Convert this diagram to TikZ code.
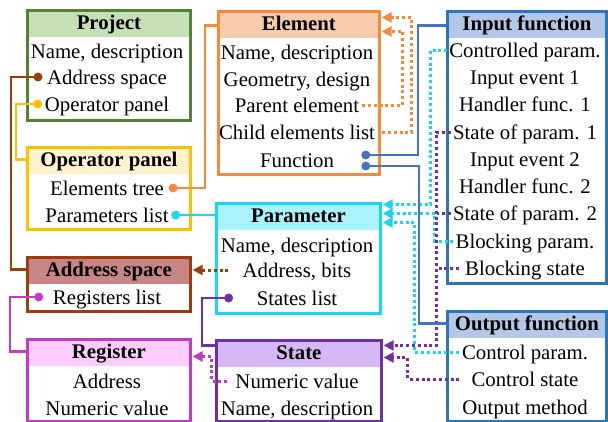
\documentclass[tikz,border=0pt]{standalone}
\usepackage{fontspec}
\setmainfont{Liberation Serif}
\usetikzlibrary{arrows.meta,calc}
\definecolor{gB}{HTML}{548235}\definecolor{gH}{HTML}{C5E0B4}
\definecolor{oB}{HTML}{F58A3C}\definecolor{oH}{HTML}{F8CBAD}
\definecolor{yB}{HTML}{FFC000}\definecolor{yH}{HTML}{FFF2CC}
\definecolor{cB}{HTML}{1AD6F0}\definecolor{cH}{HTML}{ABF3FA}
\definecolor{bB}{HTML}{9C3D10}\definecolor{bH}{HTML}{C88585}
\definecolor{mB}{HTML}{C23BC2}\definecolor{mH}{HTML}{FFCCFF}
\definecolor{pB}{HTML}{7030A0}\definecolor{pH}{HTML}{D5B8F5}
\definecolor{fB}{HTML}{2E75B6}\definecolor{fH}{HTML}{B4C7E7}
\definecolor{lB}{HTML}{4472C4}
\begin{document}
\begin{tikzpicture}[x=1pt,y=-1pt,
  box/.style={draw=#1, line width=2.8pt, inner sep=0pt, anchor=north west},
  hfill/.style={path picture={\fill[#1] (path picture bounding box.north west) rectangle ([yshift=-27pt]path picture bounding box.north east);}},
  txt/.style={inner sep=0pt, text height=14pt, text depth=0pt, font=\fontsize{20.8}{24}\selectfont},
  hdr/.style={txt, font=\fontsize{20.8}{24}\selectfont\bfseries},
  sol/.style={draw=#1, line width=2.6pt},
  dt/.style={draw=#1, line width=3pt, dash pattern=on 3pt off 2.8pt},
  arr/.style={-{Triangle[length=10pt,width=10pt]}, shorten >=-0.5pt},
  dotr/.style={fill=#1}
]
\useasboundingbox (0,0) rectangle (608,421);
% Project
\node[box=gB, hfill=gH, minimum width=163pt, minimum height=110pt] (prj) at (26,9) {};
\node[hdr] (prjh) at ([yshift=-13.5pt]prj.north) {Project};
\node[txt] (prj1) at (107,51) {Name, description};
\node[txt] (prj2) at (107,77) {Address space};
\node[txt] (prj3) at (107,104) {Operator panel};
% Element
\node[box=oB, hfill=oH, minimum width=161pt, minimum height=163pt] (el) at (217,10) {};
\node[hdr] (elh) at ([yshift=-13.5pt]el.north) {Element};
\node[txt] (el1) at (297,52) {Name, description};
\node[txt] (el2) at (297,79) {Geometry, design};
\node[txt] (el3) at (297,105) {Parent element};
\node[txt] (el4) at (297,132) {Child elements list};
\node[txt] (el5) at (297,160) {Function};
% Input function
\node[box=fB, hfill=fH, minimum width=159pt, minimum height=272pt] (if) at (446,10) {};
\node[hdr] (ifh) at ([yshift=-13.5pt]if.north) {Input function};
\node[txt] (if1) at (525,50) {Controlled param.};
\node[txt] (if2) at (525,77) {Input event 1};
\node[txt] (if3) at (525,104) {Handler func. 1};
\node[txt] (if4) at (525,132) {State of param. 1};
\node[txt] (if5) at (525,159) {Input event 2};
\node[txt] (if6) at (525,186) {Handler func. 2};
\node[txt] (if7) at (525,213) {State of param. 2};
\node[txt] (if8) at (525,241) {Blocking param.};
\node[txt] (if9) at (525,268) {Blocking state};
% Operator panel
\node[box=yB, hfill=yH, minimum width=163pt, minimum height=82pt] (op) at (26,146) {};
\node[hdr] (oph) at ([yshift=-13.5pt]op.north) {Operator panel};
\node[txt] (op1) at (107,188) {Elements tree};
\node[txt] (op2) at (107,215) {Parameters list};
% Parameter
\node[box=cB, hfill=cH, minimum width=164pt, minimum height=110pt] (pm) at (215,202) {};
\node[hdr] (pmh) at ([yshift=-13.5pt]pm.north) {Parameter};
\node[txt] (pm1) at (297,245) {Name, description};
\node[txt] (pm2) at (297,270) {Address, bits};
\node[txt] (pm3) at (297,298) {States list};
% Address space
\node[box=bB, hfill=bH, minimum width=163pt, minimum height=54pt] (as) at (26,256) {};
\node[hdr] (ash) at ([yshift=-13.5pt]as.north) {Address space};
\node[txt] (as1) at (107,297) {Registers list};
% Register
\node[box=mB, hfill=mH, minimum width=163pt, minimum height=82pt] (rg) at (26,338) {};
\node[hdr] (rgh) at ([yshift=-13.5pt]rg.north) {Register};
\node[txt] (rg1) at (107,381) {Address};
\node[txt] (rg2) at (107,408) {Numeric value};
% State
\node[box=pB, hfill=pH, minimum width=165pt, minimum height=81pt] (st) at (215,339) {};
\node[hdr] (sth) at ([yshift=-13.5pt]st.north) {State};
\node[txt] (st1) at (297,381) {Numeric value};
\node[txt] (st2) at (297,408) {Name, description};
% Output function
\node[box=fB, hfill=fH, minimum width=159pt, minimum height=110pt] (of) at (446,310) {};
\node[hdr] (ofh) at ([yshift=-13.5pt]of.north) {Output function};
\node[txt] (of1) at (525,352) {Control param.};
\node[txt] (of2) at (525,379) {Control state};
\node[txt] (of3) at (525,407) {Output method};

% ---- dotted connectors
\draw[dt=oB, arr] ($(el3.east)+(3,0)$) -| ($(el.east|-elh)+(22,8)$) -- ($(el.east|-elh)+(1.3,8)$);
\draw[dt=oB, arr] ($(el.east|-el4)+(1.3,0)$) -| ($(el.east|-elh)+(31,-6)$) -- ($(el.east|-elh)+(1.3,-6)$);
\draw[dt=cB, arr] ($(if1.west)+(-2,0)$) -| ($(pm.east|-pmh)+(49,-11)$) -- ($(pm.east|-pmh)+(1.3,-11)$);
\draw[dt=cB, arr] ($(if8.west)+(-2,0)$) -| ($(pm.east|-pmh)+(53,-2)$) -- ($(pm.east|-pmh)+(1.3,-2)$);
\draw[dt=cB, arr] ($(of1.west)+(-3,0)$) -| ($(pm.east|-pmh)+(33,7)$) -- ($(pm.east|-pmh)+(1.3,7)$);
\draw[dt=pB, arr] ($(if4.west)+(-2,0)$) -| ($(st.east|-sth)+(54,-7)$) -- ($(st.east|-sth)+(1.3,-7)$);
\draw[dt=pB] ($(if7.west)+(-2,0)$) -- ($(st.east|-if7)+(54,0)$);
\draw[dt=pB] ($(if9.west)+(-6,0)$) -- ($(st.east|-if9)+(54,0)$);
\draw[dt=pB, arr] ($(of2.west)+(-12,0)$) -| ($(st.east|-sth)+(25,5)$) -- ($(st.east|-sth)+(1.3,5)$);
\draw[dt=bB, arr] ($(pm2.west)+(-14,0)$) -- ($(as.east|-pm2)+(1.3,0)$);
\draw[dt=mB, arr] ($(st1.west)+(-8,0)$) -| ($(rg.east|-rgh)+(20,5)$) -- ($(rg.east|-rgh)+(1.3,5)$);

% ---- solid connectors
\draw[sol=bB] ($(prj2.west)+(-9,0)$) coordinate (d1) -| ($(as.west|-ash)+(-15,0)$) -- (as.west|-ash);
\fill[bB] (d1) circle (4.5pt);
\draw[sol=yB] ($(prj3.west)+(-7,0)$) coordinate (d2) -| ($(op.west|-oph)+(-10,0)$) -- (op.west|-oph);
\fill[yB] (d2) circle (4.5pt);
\draw[sol=oB] ($(op1.east)+(9,0)$) coordinate (d3) -| ($(el.west|-elh)+(-12,2)$) -- ($(el.west|-elh)+(0,2)$);
\fill[oB] (d3) circle (4.5pt);
\draw[sol=cB] ($(op2.east)+(7,0)$) coordinate (d4) -- (d4 -| pm.west);
\fill[cB] (d4) circle (4.5pt);
\draw[sol=mB] ($(as1.west)+(-14,0)$) coordinate (d5) -| ($(rg.west|-rgh)+(-16,0)$) -- (rg.west|-rgh);
\fill[mB] (d5) circle (4.5pt);
\draw[sol=pB] ($(pm3.west)+(-28,0)$) coordinate (d6) -| ($(st.west|-sth)+(-13,-7)$) -- ($(st.west|-sth)+(0,-7)$);
\fill[pB] (d6) circle (4.5pt);
\draw[sol=lB] ($(el.east|-el5)+(-15,-5)$) coordinate (d7) -| ($(if.west|-ifh)+(-28,2)$) -- ($(if.west|-ifh)+(0,2)$);
\fill[lB] (d7) circle (4.5pt);
\draw[sol=lB] ($(el.east|-el5)+(-15,6)$) coordinate (d8) -| ($(of.west|-ofh)+(-27,0)$) -- (of.west|-ofh);
\fill[lB] (d8) circle (4.5pt);
\end{tikzpicture}
\end{document}
